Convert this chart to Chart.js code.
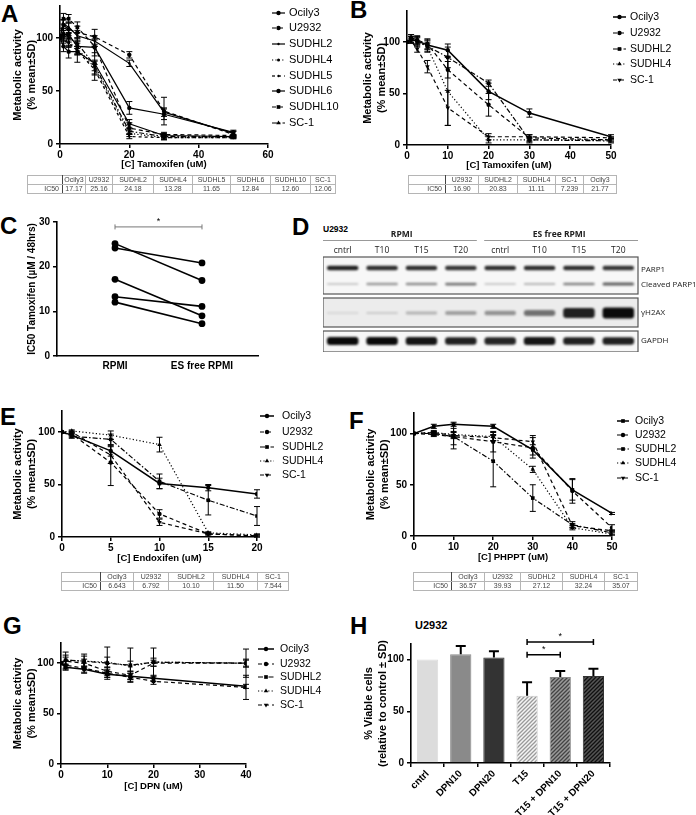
<!DOCTYPE html>
<html>
<head>
<meta charset="utf-8">
<title>Tamoxifen panels</title>
<script src="https://cdn.jsdelivr.net/npm/chart.js"></script>
<style>
  body { margin: 0; background: #fff; width: 696px; height: 815px; position: relative; overflow: hidden; font-family: 'Liberation Sans', Arial, sans-serif; }
  canvas { position: absolute; }
  .lbl { position: absolute; font-weight: bold; font-size: 24px; line-height: 24px; }
  .sub { position: absolute; font-weight: bold; white-space: nowrap; }
  table.ic { position: absolute; border-collapse: collapse; table-layout: fixed; font-size: 7px; color: #444; will-change: transform; transform: translateZ(0); }
  table.ic td { border: 1px solid #b5b5b5; text-align: center; padding: 0; height: 8px; line-height: 8px; overflow: hidden; white-space: nowrap; }
  table.ic td.r { text-align: right; padding-right: 3px; }
  table.ic.dark { border: 1.5px solid #111; }
</style>
</head>
<body>
<div class="lbl" style="left:1px;top:2px">A</div>
<div class="lbl" style="left:350px;top:-2px">B</div>
<div class="lbl" style="left:0px;top:214px">C</div>
<div class="lbl" style="left:292px;top:215px">D</div>
<div class="lbl" style="left:0px;top:405px">E</div>
<div class="lbl" style="left:349px;top:409px">F</div>
<div class="lbl" style="left:3px;top:614px">G</div>
<div class="lbl" style="left:350px;top:614px">H</div>
<div class="sub" style="left:323px;top:224px;font-size:8.5px">U2932</div>
<div class="sub" style="left:415px;top:619px;font-size:11px">U2932</div>
<script>
// ---- panel A: tamoxifen in RPMI ----
const doseA = [0, 1, 2.5, 5, 10, 20, 30, 50];
const ocily3A = [100, 103, 103, 92, 91, 34, 28, 11];
const u2932A = [100, 112, 108, 105, 101, 84, 31, 9];
const sudhl2A = [100, 113, 110, 102, 97, 76, 30, 10];
const sudhl4A = [100, 100, 96, 90, 72, 10, 6, 6];
const sudhl5A = [100, 98, 95, 88, 70, 7, 6, 6];
const sudhl6A = [100, 92, 87, 87, 76, 19, 8, 7];
const sudhl10A = [100, 118, 118, 110, 92, 15, 9, 8];
const sc1A = [100, 105, 100, 95, 74, 12, 7, 7];
const ocily3Asd = [0, 4, 5, 8, 8, 6, 5, 2];
const u2932Asd = [0, 5, 6, 6, 7, 3, 13, 3];
const sudhl2Asd = [0, 4, 5, 5, 5, 3, 4, 2];
const sudhl4Asd = [0, 3, 4, 5, 6, 3, 2, 1];
const sudhl5Asd = [0, 3, 4, 4, 5, 2, 2, 1];
const sudhl6Asd = [0, 5, 6, 10, 16, 4, 2, 1];
const sudhl10Asd = [0, 5, 4, 5, 6, 5, 2, 1];
const sc1Asd = [0, 4, 4, 5, 5, 3, 2, 1];

// ---- panel B: tamoxifen in ES free RPMI ----
const doseB = [0, 1, 2.5, 5, 10, 20, 30, 50];
const ocily3B = [100, 102, 101, 97, 92, 52, 31, 8];
const u2932B = [100, 104, 102, 98, 73, 39, 7, 5];
const sudhl2B = [100, 103, 100, 96, 85, 60, 5, 4];
const sudhl4B = [100, 102, 101, 95, 52, 5, 5, 5];
const sc1B = [100, 101, 93, 76, 36, 8, 8, 7];
const ocily3Bsd = [0, 3, 4, 4, 6, 8, 4, 2];
const u2932Bsd = [0, 3, 4, 5, 8, 11, 3, 2];
const sudhl2Bsd = [0, 4, 5, 6, 10, 3, 3, 2];
const sudhl4Bsd = [0, 3, 3, 4, 33, 3, 2, 1];
const sc1Bsd = [0, 2, 3, 6, 17, 3, 2, 1];

// ---- panel C: IC50 per medium ----
const conditions = ['RPMI', 'ES free RPMI'];
const ic50Rpmi = [25.16, 24.18, 17.17, 13.28, 12.06];
const ic50EsFree = [16.9, 20.83, 9.0, 11.11, 7.24];

// ---- panel D: blot band intensities (0..1) ----
const lanes = ['cntrl', 'T10', 'T15', 'T20', 'cntrl', 'T10', 'T15', 'T20'];
const parp1 = [0.9, 0.85, 0.85, 0.8, 0.85, 0.85, 0.85, 0.8];
const cleavedParp1 = [0.12, 0.35, 0.4, 0.5, 0.12, 0.22, 0.45, 0.6];
const h2ax = [0.04, 0.08, 0.18, 0.28, 0.35, 0.5, 0.9, 1.0];
const gapdh = [1.0, 1.0, 0.95, 0.9, 0.88, 0.95, 0.9, 0.9];

// ---- panel E: endoxifen ----
const doseE = [0, 1, 5, 10, 15, 20];
const ocily3E = [100, 97, 82, 51, 47, 41];
const u2932E = [100, 98, 71, 22, 3, 1];
const sudhl2E = [100, 96, 93, 53, 35, 20];
const sudhl4E = [100, 101, 97, 88, 4, 2];
const sc1E = [100, 100, 78, 14, 3, 1];
const ocily3Esd = [0, 2, 5, 5, 3, 4];
const u2932Esd = [0, 2, 22, 4, 1, 1];
const sudhl2Esd = [0, 2, 5, 7, 14, 9];
const sudhl4Esd = [0, 1, 4, 7, 1, 1];
const sc1Esd = [0, 1, 8, 3, 1, 1];

// ---- panel F: PHPPT ----
const doseF = [0, 5, 10, 20, 30, 40, 50];
const ocily3F = [100, 107, 109, 107, 84, 45, 22];
const u2932F = [100, 99, 97, 92, 86, 44, 8];
const sudhl2F = [100, 100, 97, 73, 37, 11, 3];
const sudhl4F = [100, 101, 99, 97, 65, 8, 2];
const sc1F = [100, 101, 98, 96, 92, 10, 5];
const ocily3Fsd = [0, 2, 2, 2, 5, 10, 1];
const u2932Fsd = [0, 2, 12, 10, 10, 12, 3];
const sudhl2Fsd = [0, 2, 8, 25, 13, 3, 2];
const sudhl4Fsd = [0, 2, 3, 4, 3, 2, 1];
const sc1Fsd = [0, 1, 3, 3, 6, 2, 1];

// ---- panel G: DPN ----
const doseG = [0, 1, 5, 10, 15, 20, 40];
const ocily3G = [100, 96, 94, 89, 87, 85, 77];
const u2932G = [100, 98, 95, 90, 86, 82, 76];
const sudhl2G = [100, 103, 102, 100, 98, 101, 100];
const sudhl4G = [100, 103, 102, 101, 97, 101, 100];
const sc1G = [100, 102, 100, 92, 88, 100, 100];
const ocily3Gsd = [0, 3, 3, 3, 3, 3, 2];
const u2932Gsd = [0, 4, 5, 4, 4, 3, 12];
const sudhl2Gsd = [0, 8, 7, 16, 17, 14, 14];
const sudhl4Gsd = [0, 5, 5, 5, 5, 4, 4];
const sc1Gsd = [0, 4, 4, 4, 4, 3, 3];

// ---- panel H: viability ----
const treatH = ['cntrl', 'DPN10', 'DPN20', 'T15', 'T15 + DPN10', 'T15 + DPN20'];
const viableH = [100, 105, 102, 65, 83, 84];
const viableHsd = [0, 8, 6, 13, 6, 7];

// ---- IC50 tables ----
const icLinesA = ['Ocily3', 'U2932', 'SUDHL2', 'SUDHL4', 'SUDHL5', 'SUDHL6', 'SUDHL10', 'SC-1'];
const icValsA = ['17.17', '25.16', '24.18', '13.28', '11.65', '12.84', '12.60', '12.06'];
const icLinesB = ['U2932', 'SUDHL2', 'SUDHL4', 'SC-1', 'Ocily3'];
const icValsB = ['16.90', '20.83', '11.11', '7.239', '21.77'];
const icLines5 = ['Ocily3', 'U2932', 'SUDHL2', 'SUDHL4', 'SC-1'];
const icValsE = ['6.643', '6.792', '10.10', '11.50', '7.544'];
const icValsF = ['36.57', '39.93', '27.12', '32.24', '35.07'];

Chart.defaults.font.family = "'Liberation Sans', Arial, sans-serif";
Chart.defaults.color = '#000';
Chart.defaults.animation = false;
Chart.defaults.responsive = false;

// error bars from the sd arrays
const errBars = {
  id: 'errBars',
  afterDatasetsDraw(chart) {
    const ctx = chart.ctx, ys = chart.scales.y;
    chart.data.datasets.forEach((ds, i) => {
      if (!ds.sd) return;
      const meta = chart.getDatasetMeta(i);
      ctx.save();
      ctx.strokeStyle = '#000';
      ctx.lineWidth = ds.errWidth || 1;
      ctx.setLineDash([]);
      meta.data.forEach((el, j) => {
        const s = ds.sd[j];
        if (!s) return;
        const raw = ds.data[j];
        const v = typeof raw === 'object' ? raw.y : raw;
        const top = ys.getPixelForValue(v + s);
        const bot = ds.upOnly ? el.y : ys.getPixelForValue(v - s);
        const cw = ds.capWidth || 3;
        ctx.beginPath();
        ctx.moveTo(el.x, top); ctx.lineTo(el.x, bot);
        ctx.moveTo(el.x - cw, top); ctx.lineTo(el.x + cw, top);
        if (!ds.upOnly) { ctx.moveTo(el.x - cw, bot); ctx.lineTo(el.x + cw, bot); }
        ctx.stroke();
      });
      ctx.restore();
    });
  }
};

// legend drawn beside the plot, one row per dataset
const sideLegend = {
  id: 'sideLegend',
  afterDraw(chart, args, o) {
    if (!o.ys) return;
    const ctx = chart.ctx;
    ctx.save();
    chart.data.datasets.forEach((ds, i) => {
      const y = o.ys[i];
      ctx.strokeStyle = '#000';
      ctx.lineWidth = ds.borderWidth || 1;
      ctx.setLineDash(ds.borderDash || []);
      ctx.beginPath(); ctx.moveTo(o.x, y); ctx.lineTo(o.x + o.len, y); ctx.stroke();
      ctx.setLineDash([]);
      ctx.fillStyle = '#000';
      if (ds.pointRadius > 0) {
        if (Chart.helpers && Chart.helpers.drawPoint) {
          Chart.helpers.drawPoint(ctx, {pointStyle: ds.pointStyle || 'circle', rotation: ds.pointRotation || 0, radius: ds.pointRadius, borderWidth: 0}, o.x + o.len / 2, y);
        } else {
          ctx.beginPath(); ctx.arc(o.x + o.len / 2, y, ds.pointRadius, 0, Math.PI * 2); ctx.fill();
        }
      }
      ctx.font = o.font;
      ctx.textAlign = 'left';
      ctx.textBaseline = 'middle';
      ctx.fillText(ds.label, o.x + o.len + o.gap, y);
    });
    ctx.restore();
  }
};

// significance brackets
const sigBars = {
  id: 'sig',
  afterDraw(chart, args, o) {
    if (!o.bars) return;
    const {ctx} = chart, xs = chart.scales.x, ys = chart.scales.y;
    ctx.save();
    o.bars.forEach(b => {
      const x1 = xs.getPixelForValue(b.from), x2 = xs.getPixelForValue(b.to), py = ys.getPixelForValue(b.at);
      ctx.strokeStyle = o.color; ctx.lineWidth = o.width;
      ctx.beginPath();
      ctx.moveTo(x1, py); ctx.lineTo(x2, py);
      ctx.moveTo(x1, py - o.cap); ctx.lineTo(x1, py + o.cap);
      ctx.moveTo(x2, py - o.cap); ctx.lineTo(x2, py + o.cap);
      ctx.stroke();
      ctx.fillStyle = '#000';
      ctx.font = o.font;
      ctx.textAlign = 'center';
      ctx.textBaseline = 'bottom';
      ctx.fillText('*', (x1 + x2) / 2, py - 1);
    });
    ctx.restore();
  }
};

// blot frames, lane and row labels; bands are blurred a little like film
const blotDeco = {
  id: 'blot',
  beforeDatasetsDraw(chart, args, o) {
    if (!o.boxes) return;
    const {ctx, chartArea: a} = chart, ys = chart.scales.y;
    o.boxes.forEach((b, i) => {
      ctx.fillStyle = o.fills[i];
      ctx.fillRect(a.left, ys.getPixelForValue(b[0]), a.right - a.left, ys.getPixelForValue(b[1]) - ys.getPixelForValue(b[0]));
    });
    ctx.save();
    ctx.filter = 'blur(0.9px)';
  },
  afterDatasetsDraw(chart, args, o) {
    if (!o.boxes) return;
    chart.ctx.restore();
  },
  afterDraw(chart, args, o) {
    if (!o.boxes) return;
    const {ctx, chartArea: a} = chart, xs = chart.scales.x, ys = chart.scales.y;
    ctx.save();
    ctx.strokeStyle = '#555'; ctx.lineWidth = 1.2;
    o.boxes.forEach(b => {
      ctx.strokeRect(a.left, ys.getPixelForValue(b[0]), a.right - a.left, ys.getPixelForValue(b[1]) - ys.getPixelForValue(b[0]));
    });
    ctx.fillStyle = '#222';
    ctx.textBaseline = 'middle';
    ctx.font = "8.5px 'Open Sans', 'Liberation Sans', sans-serif";
    ctx.textAlign = 'center';
    lanes.forEach((l, i) => ctx.fillText(l, xs.getPixelForValue(i), a.top - 6));
    ctx.font = "bold 8.5px 'Open Sans', 'Liberation Sans', sans-serif";
    const g1 = [a.left, xs.getPixelForValue(3) + 16];
    const g2 = [xs.getPixelForValue(4) - 16, a.right];
    ctx.fillText(o.groups[0], (xs.getPixelForValue(1) + xs.getPixelForValue(2)) / 2, a.top - 22);
    ctx.fillText(o.groups[1], (xs.getPixelForValue(5) + xs.getPixelForValue(6)) / 2, a.top - 22);
    ctx.strokeStyle = '#999'; ctx.lineWidth = 1;
    ctx.beginPath();
    ctx.moveTo(g1[0], a.top - 16.5); ctx.lineTo(g1[1], a.top - 16.5);
    ctx.moveTo(g2[0], a.top - 16.5); ctx.lineTo(g2[1], a.top - 16.5);
    ctx.stroke();
    ctx.textAlign = 'left';
    ctx.font = "8px 'Open Sans', 'Liberation Sans', sans-serif";
    o.rows.forEach(r => ctx.fillText(r[0], a.right + 3, ys.getPixelForValue(r[1])));
    ctx.restore();
  }
};

Chart.register(errBars, sideLegend, sigBars, blotDeco);

const axisGrid = {display: true, drawOnChartArea: false, drawTicks: true, tickLength: 4, color: '#000', lineWidth: 1.5};
const axisBorder = {display: true, color: '#000', width: 1.6};
const tickFont = {weight: 'bold', size: 10};

function yLin(min, max, step, title, pad) {
  return {
    type: 'linear', min, max,
    ticks: {stepSize: step, includeBounds: false, font: tickFont, padding: 3},
    grid: axisGrid, border: axisBorder,
    title: {display: true, text: title, font: {weight: 'bold', size: 11, lineHeight: 1.27}, padding: {top: pad, bottom: 0}}
  };
}
function xLin(min, max, step, title) {
  return {
    type: 'linear', min, max,
    ticks: {stepSize: step, includeBounds: false, font: tickFont, padding: 1, maxRotation: 0},
    grid: axisGrid, border: axisBorder,
    title: {display: true, text: title, font: {weight: 'bold', size: 9.5}, padding: {top: 0, bottom: 0}}
  };
}

function mk(plot, yW, xH, padR, padT, cfg, legend) {
  const left = plot.l - yW, top = plot.t - padT;
  const w = plot.r - plot.l + yW + padR, h = plot.b - plot.t + padT + xH;
  const c = document.createElement('canvas');
  c.width = w; c.height = h;
  c.style.left = left + 'px'; c.style.top = top + 'px';
  document.body.appendChild(c);
  const opts = cfg.options;
  opts.layout = {padding: {left: 0, top: padT, right: padR, bottom: 0}};
  opts.plugins = Object.assign({legend: {display: false}, tooltip: {enabled: false}}, opts.plugins || {});
  if (yW) opts.scales.y.afterFit = s => { s.width = yW; };
  if (xH) opts.scales.x.afterFit = s => { s.height = xH; };
  if (legend) {
    opts.plugins.sideLegend = {x: legend.x - left, len: legend.len, gap: legend.gap, ys: legend.ys.map(v => v - top), font: legend.font};
  }
  return new Chart(c, cfg);
}

function series(label, dose, vals, sd, style) {
  return Object.assign({
    label, sd,
    data: dose.map((d, i) => ({x: d, y: vals[i]})),
    borderColor: '#000', backgroundColor: '#000', pointBackgroundColor: '#000',
    borderWidth: 1.2, pointRadius: 2.2, pointBorderWidth: 0, tension: 0
  }, style);
}

const SOLID = {borderDash: []};
const DASH = {borderDash: [4, 3]};
const FINEDASH = {borderDash: [3, 3]};
const DOT = {borderDash: [1.2, 2.2]};
const DASHDOT = {borderDash: [5, 2, 1.5, 2]};
const circ = {pointStyle: 'circle'};
const sq = {pointStyle: 'rect', pointRadius: 2.6};
const tri = {pointStyle: 'triangle', pointRadius: 2.6};
const itri = {pointStyle: 'triangle', pointRotation: 180, pointRadius: 2.6};
const st = (...parts) => Object.assign({}, ...parts);

const legendFont = "10.5px 'Liberation Sans', Arial, sans-serif";
const actTitle = ['Metabolic activity', '(% mean\u00b1SD)'];

// A
mk({l: 60, r: 268, t: 5, b: 144}, 50, 26, 78, 8, {
  type: 'line',
  data: {datasets: [
    series('Ocily3', doseA, ocily3A, ocily3Asd, st(SOLID, circ)),
    series('U2932', doseA, u2932A, u2932Asd, st(DASH, circ)),
    series('SUDHL2', doseA, sudhl2A, sudhl2Asd, st(SOLID, {pointRadius: 1.2})),
    series('SUDHL4', doseA, sudhl4A, sudhl4Asd, st(DOT, {pointRadius: 1.5})),
    series('SUDHL5', doseA, sudhl5A, sudhl5Asd, st(FINEDASH, {pointRadius: 1.2})),
    series('SUDHL6', doseA, sudhl6A, sudhl6Asd, st(SOLID, circ)),
    series('SUDHL10', doseA, sudhl10A, sudhl10Asd, st(DASH, sq)),
    series('SC-1', doseA, sc1A, sc1Asd, st(DASHDOT, tri))
  ]},
  options: {scales: {x: xLin(0, 60, 20, '[C] Tamoxifen (uM)'), y: yLin(0, 130, 50, actTitle, 1)}}
}, {x: 272, len: 13, gap: 4, ys: [13, 28, 44, 60, 76, 91, 107, 123], font: "11px 'Liberation Sans', Arial, sans-serif"});

// B
mk({l: 407, r: 611, t: 10, b: 145}, 50, 26, 84, 8, {
  type: 'line',
  data: {datasets: [
    series('Ocily3', doseB, ocily3B, ocily3Bsd, st(SOLID, circ, {borderWidth: 1.5})),
    series('U2932', doseB, u2932B, u2932Bsd, st(DASH, circ)),
    series('SUDHL2', doseB, sudhl2B, sudhl2Bsd, st(DASHDOT, sq)),
    series('SUDHL4', doseB, sudhl4B, sudhl4Bsd, st(DOT, tri)),
    series('SC-1', doseB, sc1B, sc1Bsd, st(DASH, itri))
  ]},
  options: {scales: {x: xLin(0, 50, 10, '[C] Tamoxifen (uM)'), y: yLin(0, 130, 50, actTitle, 4)}}
}, {x: 613, len: 13, gap: 4, ys: [17, 33, 49, 64, 80], font: legendFont});

// C
mk({l: 57, r: 258, t: 222, b: 356}, 32, 22, 10, 14, {
  type: 'line',
  data: {datasets: ic50Rpmi.map((v, i) => ({
    data: [{x: 0, y: v}, {x: 1, y: ic50EsFree[i]}],
    borderColor: '#000', backgroundColor: '#000', borderWidth: 1.6, pointRadius: 3.4, pointBorderWidth: 0
  }))},
  options: {
    scales: {
      x: {type: 'linear', min: -0.667, max: 1.644,
        afterBuildTicks: s => { s.ticks = [{value: 0}, {value: 1}]; },
        ticks: {callback: v => conditions[v], font: {weight: 'bold', size: 10}, padding: 4, maxRotation: 0},
        grid: {display: true, drawOnChartArea: false, drawTicks: false}, border: axisBorder},
      y: {type: 'linear', min: 0, max: 30,
        ticks: {stepSize: 10, font: tickFont, padding: 3},
        grid: axisGrid, border: axisBorder,
        title: {display: true, text: 'IC50 Tamoxifen (\u00b5M / 48hrs)', font: {weight: 'bold', size: 10}, padding: {top: 1, bottom: 0}}}
    },
    plugins: {sig: {bars: [{from: 0, to: 1, at: 28.9}], color: '#777', width: 1, cap: 2.5, font: "9px 'Liberation Sans', Arial"}}
  }
});

// D
const bandRow = (vals, center, base, gain) => ({
  data: vals.map(v => [center - (base + gain * v) / 2, center + (base + gain * v) / 2]),
  backgroundColor: vals.map(v => 'rgba(10,10,10,' + (0.08 + 0.92 * v).toFixed(2) + ')'),
  borderWidth: 0, borderRadius: 3, borderSkipped: false,
  barPercentage: 0.8, categoryPercentage: 1, grouped: false
});
mk({l: 323, r: 638, t: 257, b: 352}, 0, 0, 62, 32, {
  type: 'bar',
  data: {labels: lanes, datasets: [
    bandRow(parp1, 11, 2, 3),
    bandRow(cleavedParp1, 27, 1.5, 2.5),
    bandRow(h2ax, 56, 1, 10),
    bandRow(gapdh, 84, 4, 4)
  ]},
  options: {
    scales: {x: {type: 'category', display: false}, y: {type: 'linear', min: 0, max: 95, reverse: true, display: false}},
    plugins: {blot: {
      boxes: [[0, 37], [41, 70], [74, 95]],
      fills: ['#f7f7f7', '#ececec', '#f7f7f7'],
      groups: ['RPMI', 'ES free RPMI'],
      rows: [['PARP1', 13], ['Cleaved PARP1', 28], ['\u03b3H2AX', 56], ['GAPDH', 84]]
    }}
  }
});

// E
mk({l: 62, r: 257, t: 410, b: 537}, 52, 27, 90, 8, {
  type: 'line',
  data: {datasets: [
    series('Ocily3', doseE, ocily3E, ocily3Esd, st(SOLID, circ, {borderWidth: 1.5})),
    series('U2932', doseE, u2932E, u2932Esd, st(DASH, circ)),
    series('SUDHL2', doseE, sudhl2E, sudhl2Esd, st(DASHDOT, sq)),
    series('SUDHL4', doseE, sudhl4E, sudhl4Esd, st(DOT, tri)),
    series('SC-1', doseE, sc1E, sc1Esd, st(DASH, itri))
  ]},
  options: {scales: {x: xLin(0, 20, 5, '[C] Endoxifen (uM)'), y: yLin(0, 120, 50, actTitle, 1)}}
}, {x: 260, len: 14, gap: 8, ys: [416, 432, 447, 461, 475], font: legendFont});

// F
mk({l: 414, r: 612, t: 412, b: 536}, 52, 27, 82, 8, {
  type: 'line',
  data: {datasets: [
    series('Ocily3', doseF, ocily3F, ocily3Fsd, st(SOLID, sq, {borderWidth: 1.5})),
    series('U2932', doseF, u2932F, u2932Fsd, st(DASH, circ)),
    series('SUDHL2', doseF, sudhl2F, sudhl2Fsd, st(DASHDOT, sq)),
    series('SUDHL4', doseF, sudhl4F, sudhl4Fsd, st(DOT, tri)),
    series('SC-1', doseF, sc1F, sc1Fsd, st(DASH, itri))
  ]},
  options: {scales: {x: xLin(0, 50, 10, '[C] PHPPT (uM)'), y: yLin(0, 120, 50, actTitle, 2)}}
}, {x: 617, len: 12, gap: 6, ys: [421, 435, 449, 463, 478], font: legendFont});

// G
mk({l: 61, r: 246, t: 642, b: 764}, 51, 28, 95, 8, {
  type: 'line',
  data: {datasets: [
    series('Ocily3', doseG, ocily3G, ocily3Gsd, st(SOLID, circ, {borderWidth: 1.5})),
    series('U2932', doseG, u2932G, u2932Gsd, st(DASH, circ)),
    series('SUDHL2', doseG, sudhl2G, sudhl2Gsd, st(DASHDOT, sq)),
    series('SUDHL4', doseG, sudhl4G, sudhl4Gsd, st(DOT, tri)),
    series('SC-1', doseG, sc1G, sc1Gsd, st(DASH, itri))
  ]},
  options: {scales: {x: xLin(0, 40, 10, '[C] DPN (uM)'), y: yLin(0, 120, 50, actTitle, 1)}}
}, {x: 258, len: 16, gap: 6, ys: [649, 664, 677, 691, 705], font: legendFont});

// H
function hatch(bg, fg) {
  const p = document.createElement('canvas');
  p.width = 4; p.height = 4;
  const c = p.getContext('2d');
  c.fillStyle = bg; c.fillRect(0, 0, 4, 4);
  c.strokeStyle = fg; c.lineWidth = 1.3;
  c.beginPath();
  c.moveTo(0, 4); c.lineTo(4, 0);
  c.moveTo(-1, 1); c.lineTo(1, -1);
  c.moveTo(3, 5); c.lineTo(5, 3);
  c.stroke();
  return c.createPattern(p, 'repeat');
}
mk({l: 411, r: 610, t: 644, b: 763}, 52, 52, 10, 26, {
  type: 'bar',
  data: {labels: treatH, datasets: [{
    data: viableH, sd: viableHsd, upOnly: true, capWidth: 5, errWidth: 2,
    backgroundColor: ['#dcdcdc', '#8a8a8a', '#333333', hatch('#f4f4f4', '#9a9a9a'), hatch('#9a9a9a', '#444'), hatch('#555', '#111')],
    borderColor: ['#dcdcdc', '#8a8a8a', '#333333', '#c8c8c8', '#888', '#333'],
    borderWidth: 1, barPercentage: 0.64, categoryPercentage: 1
  }]},
  options: {
    scales: {
      x: {type: 'category', ticks: {font: tickFont, maxRotation: 45, minRotation: 45, autoSkip: false, padding: 1},
        grid: axisGrid, border: axisBorder},
      y: yLin(0, 115, 50, ['% Viable cells', '(relative to control \u00b1 SD)'], 3)
    },
    plugins: {sig: {bars: [{from: 3, to: 5, at: 117}, {from: 3, to: 4, at: 104.5}], color: '#000', width: 1.5, cap: 3, font: "9px 'Liberation Sans', Arial"}}
  }
});

// IC50 tables
function icTable(left, top, widths, heads, vals, cls) {
  const t = document.createElement('table');
  t.className = 'ic ' + (cls || '');
  t.style.left = left + 'px';
  t.style.top = top + 'px';
  t.style.width = widths.reduce((a, b) => a + b, 0) + 'px';
  let h = '<colgroup>' + widths.map(w => '<col style="width:' + w + 'px">').join('') + '</colgroup>';
  h += '<tr><td style="border-right:1.5px solid #444"></td>' + heads.map(s => '<td>' + s + '</td>').join('') + '</tr>';
  h += '<tr><td class="r" style="border-right:1.5px solid #444">IC50</td>' + vals.map(s => '<td>' + s + '</td>').join('') + '</tr>';
  t.innerHTML = h;
  document.body.appendChild(t);
}
icTable(27, 175, [35, 23, 27, 41, 39, 38, 40, 40, 25], icLinesA, icValsA);
icTable(408, 175, [37, 33, 39, 38, 28, 33], icLinesB, icValsB);
icTable(61, 572, [39, 33, 35, 45, 44, 31], icLines5, icValsE, 'dark');
icTable(413, 572, [38, 33, 36, 42, 42, 33], icLines5, icValsF, 'dark');
</script>
</body>
</html>
